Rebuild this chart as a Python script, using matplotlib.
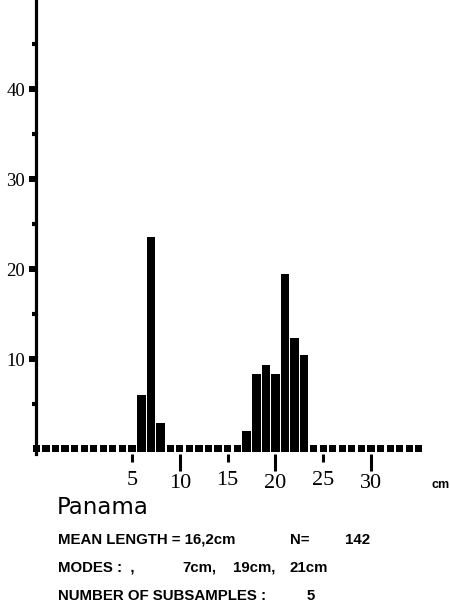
import numpy as np
import matplotlib
matplotlib.use('Agg')
from matplotlib import pyplot as plt

lengths = [6, 7, 8, 17, 18, 19, 20, 21, 22, 23]
freq = [6.3, 23.8, 3.2, 2.3, 8.6, 9.6, 8.6, 19.7, 12.6, 10.7]
# every length class printed as a little block on the base line
classes = np.arange(-5, 36)

yticks = [10, 20, 30, 40]
yminor = [5, 15, 25, 35, 45]
xmajor = [10, 20, 30]
xminor = [5, 15, 25]

site = 'Panama'
mean_len = '16,2cm'
n_fish = 142
modes = ['7cm,', '19cm,', '21cm']
n_sub = 5

txt_font = 'Liberation Sans'
num_font = 'Liberation Serif'

W, H = 450, 605
fig = plt.figure(figsize=(W / 100, H / 100), dpi=100)

# pixel layout: x=0 at 84.2px, 9.56 px per cm; y=0 at 449px, 9 px per unit
x0, sx = 84.2, 9.56
y0, sy = 449, 9.0
xlim = (-5.8, 36.6)
ylim = (-0.5, y0 / sy)
left = x0 + xlim[0] * sx
right = x0 + xlim[1] * sx
bot = y0 - ylim[0] * sy
ax = fig.add_axes([left / W, 1 - bot / H, (right - left) / W, bot / H])
ax.set_xlim(xlim)
ax.set_ylim(ylim)

# base line made of blocks, then the bars
ax.bar(classes, 0.8, bottom=-0.35, width=0.75, color='black')
ax.bar(lengths, freq, bottom=-0.3, width=0.9, color='black')

for s in ['top', 'right', 'bottom']:
    ax.spines[s].set_visible(False)
ax.spines['left'].set_position(('data', -5))
ax.spines['left'].set_linewidth(2.3)

ax.set_yticks(yticks)
ax.set_yticklabels([str(v) for v in yticks], fontfamily=num_font, fontsize=13.5)
ax.set_yticks(yminor, minor=True)
ax.tick_params(axis='y', which='major', length=5, width=4.3, pad=3)
ax.tick_params(axis='y', which='minor', length=3, width=3)

ax.set_xticks(xmajor)
ax.set_xticklabels([str(v) for v in xmajor], fontfamily=num_font, fontsize=16)
ax.set_xticks(xminor, minor=True)
ax.set_xticklabels([str(v) for v in xminor], minor=True, fontfamily=num_font, fontsize=16)
ax.tick_params(axis='x', which='major', length=12, width=2.2, pad=2.5)
ax.tick_params(axis='x', which='minor', length=6, width=2.2, pad=6.8)


def put(x, y, s, **kw):
    kw.setdefault('fontfamily', txt_font)
    kw.setdefault('fontweight', 'bold')
    kw.setdefault('fontsize', 10.8)
    fig.text(x / W, 1 - y / H, s, va='center', ha='left', **kw)


put(431, 485, 'cm', fontsize=9)
put(57, 508, site, fontfamily='DejaVu Sans', fontweight='normal', fontsize=16.5)
put(58, 540, 'MEAN LENGTH = ' + mean_len)
put(290, 540, 'N=')
put(345, 540, str(n_fish))
put(58, 568, 'MODES :  ,')
for x, m in zip([182, 233, 290], modes):
    put(x, 568, m)
put(58, 596, 'NUMBER OF SUBSAMPLES :')
put(307, 596, str(n_sub))

fig.savefig('out.png', dpi=100, facecolor='white')
